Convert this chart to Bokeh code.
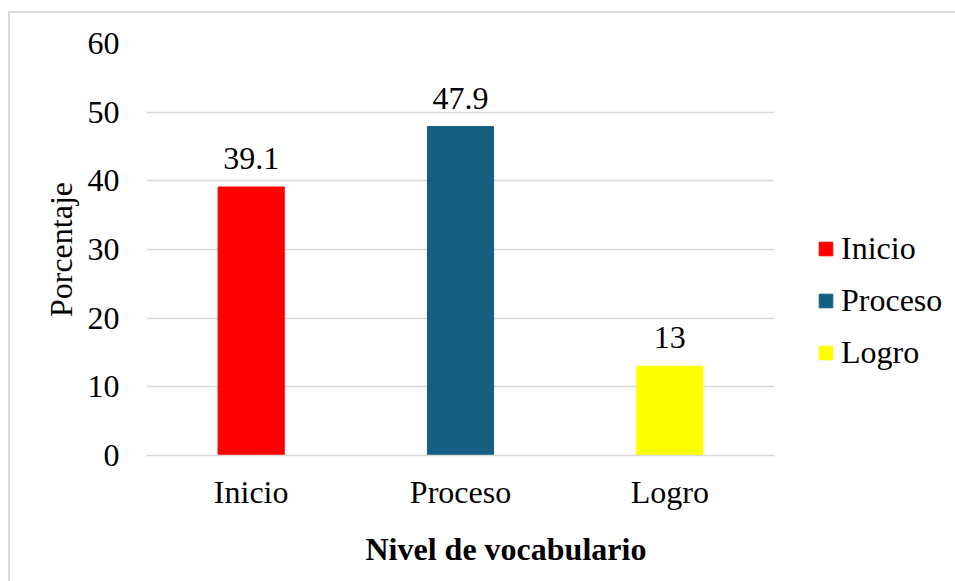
from bokeh.plotting import figure
from bokeh.models import ColumnDataSource, LabelSet, Legend, LegendItem, Title
from bokeh.embed import file_html
from bokeh.resources import INLINE

categories = ["Inicio", "Proceso", "Logro"]
values = [39.1, 47.9, 13]
value_labels = ["39.1", "47.9", "13"]
colors = ["#FF0000", "#156082", "#FFFF00"]
y_ticks = [0, 10, 20, 30, 40, 50, 60]
x_title = "Nivel de vocabulario"
y_title = "Porcentaje"

FONT = "Liberation Serif"
FS = "32px"

source = ColumnDataSource(dict(cat=categories, val=values, lab=value_labels, color=colors))

p = figure(x_range=categories, y_range=(0, 60), frame_width=628, frame_height=412,
           output_backend="svg", toolbar_location=None,
           min_border_left=146, min_border_top=43, min_border_right=173, min_border_bottom=118)
p.styles = {
    "background-image": "linear-gradient(#d9d9d9, #d9d9d9), linear-gradient(#d9d9d9, #d9d9d9)",
    "background-size": "2px 100%, 100% 2px",
    "background-position": "8px 11px, 8px 11px",
    "background-repeat": "no-repeat",
}

bars = p.vbar(x="cat", top="val", width=0.316, color="color", source=source)

p.outline_line_color = None
p.background_fill_color = "white"
p.border_fill_color = None
p.xgrid.grid_line_color = None
p.ygrid.grid_line_color = "#d9d9d9"
p.ygrid.grid_line_width = 1.5
p.yaxis.ticker = y_ticks
p.yaxis.axis_line_color = None
p.yaxis.major_tick_line_color = None
p.yaxis.minor_tick_line_color = None
p.yaxis.major_label_standoff = 21
p.yaxis.major_label_text_font = FONT
p.yaxis.major_label_text_font_size = FS
p.yaxis.major_label_text_color = "black"
p.yaxis.axis_label = y_title
p.yaxis.axis_label_text_font = FONT
p.yaxis.axis_label_text_font_size = FS
p.yaxis.axis_label_text_font_style = "normal"
p.yaxis.axis_label_text_color = "black"
p.yaxis.axis_label_standoff = 6

p.xaxis.axis_line_color = "#d9d9d9"
p.xaxis.axis_line_width = 1.5
p.xaxis.major_tick_line_color = None
p.xaxis.minor_tick_line_color = None
p.xaxis.major_label_standoff = 12
p.xaxis.major_label_text_font = FONT
p.xaxis.major_label_text_font_size = FS
p.xaxis.major_label_text_color = "black"

labels = LabelSet(x="cat", y="val", text="lab", source=source, text_align="center",
                  text_baseline="alphabetic", y_offset=18, text_font=FONT,
                  text_font_size=FS, text_color="black")
p.add_layout(labels)

title = Title(text=x_title, align="left", offset=219, standoff=32, text_font=FONT,
              text_font_size=FS, text_font_style="bold", text_color="black")
p.add_layout(title, "below")

items = [LegendItem(label=c, renderers=[bars], index=i) for i, c in enumerate(categories)]
legend = Legend(items=items, location=(43, 84), orientation="vertical",
                glyph_width=17, glyph_height=17, label_standoff=7, spacing=15,
                padding=0, margin=0, border_line_color=None, background_fill_alpha=0,
                label_text_font=FONT, label_text_font_size=FS, label_text_color="black",
                label_height=34)
p.add_layout(legend, "right")

open("out.html", "w").write(file_html(p, INLINE))
